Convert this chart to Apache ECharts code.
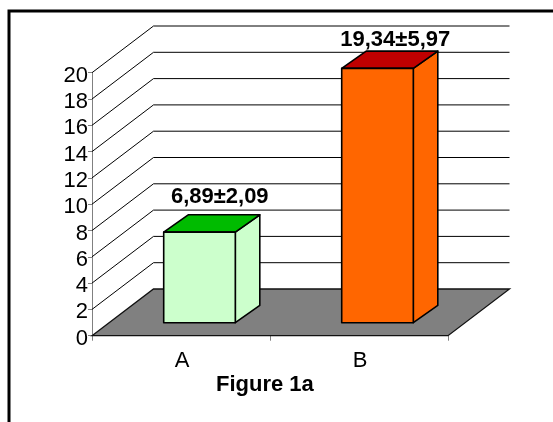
<!DOCTYPE html>
<html>
<head>
<meta charset="utf-8">
<script src="https://cdn.jsdelivr.net/npm/echarts@6/dist/echarts.min.js"></script>
<style>
html, body { margin: 0; padding: 0; background: #fff; }
#main { width: 553px; height: 422px; }
</style>
</head>
<body>
<div id="main"></div>
<script>
const categories = ['A', 'B'];
const barValues = [6.89, 19.34];
const barLabels = ['6,89\u00b12,09', '19,34\u00b15,97'];
const tickValues = [2, 4, 6, 8, 10, 12, 14, 16, 18, 20];

const depthX = 61.5, depthY = -46.7; // back wall offset
const barShiftX = 18.5, barShiftY = -13; // bar front against the axis
const barDepthX = 24.5, barDepthY = -17.3;
const barWidth = 71.6;
const labelShift = [[8, -7], [5.5, -0.5]]; // labels are placed by hand in the original
const fontName = 'Liberation Sans, Arial, sans-serif';

const frontColors = ['#ccffcc', '#ff6600'];
const topColors = ['#00bb00', '#c00000'];

const lineStyle = { stroke: '#000', lineWidth: 1, fill: null };
const edgeStyle = { stroke: '#000', lineWidth: 1.6, lineJoin: 'round' };

const myChart = echarts.init(document.getElementById('main'));

function renderWall(params, api) {
    const cs = params.coordSys;
    const y = api.coord([0, api.value(1)])[1];
    return {
        type: 'polyline',
        silent: true,
        shape: { points: [[cs.x, y], [cs.x + depthX, y + depthY], [cs.x + cs.width + depthX, y + depthY]] },
        style: lineStyle
    };
}

function renderFloor(params, api) {
    const cs = params.coordSys;
    const y = api.coord([0, 0])[1];
    return {
        type: 'polygon',
        silent: true,
        shape: { points: [
            [cs.x, y],
            [cs.x + depthX, y + depthY],
            [cs.x + cs.width + depthX, y + depthY],
            [cs.x + cs.width, y]
        ] },
        style: { fill: '#808080', stroke: '#111', lineWidth: 1.3 }
    };
}

function renderBar(params, api) {
    const i = api.value(0);
    const cx = api.coord([i, 0])[0];
    const y0 = api.coord([i, 0])[1];
    const yv = api.coord([i, api.value(1)])[1];
    const l = cx - barWidth / 2 + barShiftX;
    const r = l + barWidth;
    const b = y0 + barShiftY;
    const t = yv + barShiftY;
    const dx = barDepthX;
    const dy = barDepthY;
    return {
        type: 'group',
        children: [
            { type: 'polygon', shape: { points: [[r, b], [r + dx, b + dy], [r + dx, t + dy], [r, t]] },
                style: Object.assign({ fill: frontColors[i] }, edgeStyle) },
            { type: 'polygon', shape: { points: [[l, t], [l + dx, t + dy], [r + dx, t + dy], [r, t]] },
                style: Object.assign({ fill: topColors[i] }, edgeStyle) },
            { type: 'polygon', shape: { points: [[l, b], [l, t], [r, t], [r, b]] },
                style: Object.assign({ fill: frontColors[i] }, edgeStyle) },
            { type: 'text', style: {
                x: (l + r + dx) / 2 + labelShift[i][0],
                y: t + dy + labelShift[i][1],
                text: barLabels[i], fill: '#000',
                font: 'bold 22px ' + fontName,
                align: 'center', verticalAlign: 'bottom'
            } }
        ]
    };
}

const option = {
    animation: false,
    backgroundColor: '#fff',
    graphic: [{
        type: 'polyline',
        silent: true,
        shape: { points: [[9, 422], [9, 11], [553, 11]] },
        style: { fill: 'none', stroke: '#000', lineWidth: 3 }
    }, {
        type: 'text',
        left: 216,
        top: 374,
        style: { text: 'Figure 1a', fill: '#000', font: 'bold 22px ' + fontName }
    }],
    grid: { left: 92, right: 105, top: 72.7, bottom: 86.3 },
    xAxis: {
        type: 'category',
        data: categories,
        axisLine: { lineStyle: { color: '#808080', width: 1 } },
        axisTick: { show: true, alignWithLabel: false, length: 5, lineStyle: { color: '#808080' } },
        axisLabel: { color: '#000', fontFamily: fontName, fontSize: 22, margin: 14, padding: [0, 0, 0, 2] },
        splitLine: { show: false }
    },
    yAxis: {
        type: 'value',
        min: 0,
        max: 20,
        interval: 2,
        axisLine: { show: true, lineStyle: { color: '#808080', width: 1 } },
        axisTick: { show: true, length: 4, lineStyle: { color: '#808080' } },
        axisLabel: {
            color: '#000', fontFamily: fontName, fontSize: 22, margin: 4,
            verticalAlign: 'top', lineHeight: 22, padding: [-8, 0, 0, 0]
        },
        splitLine: { show: false }
    },
    series: [
        { type: 'custom', coordinateSystem: 'cartesian2d', renderItem: renderFloor, data: [[0, 0]], z: 1, silent: true },
        {
            type: 'custom',
            coordinateSystem: 'cartesian2d',
            renderItem: renderWall,
            data: tickValues.map(v => [0, v]),
            encode: { x: 0, y: 1 },
            z: 2,
            silent: true
        },
        {
            type: 'custom',
            coordinateSystem: 'cartesian2d',
            renderItem: renderBar,
            data: barValues.map((v, i) => [i, v]),
            encode: { x: 0, y: 1 },
            z: 3,
            silent: true
        }
    ]
};
myChart.setOption(option);
</script>
</body>
</html>
